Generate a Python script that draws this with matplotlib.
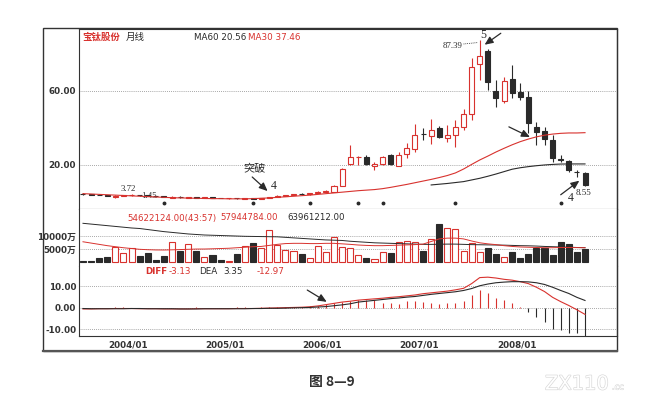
import matplotlib
matplotlib.use('Agg')
import matplotlib.pyplot as plt
import matplotlib.patheffects as pe
from matplotlib.patches import Rectangle
from matplotlib.lines import Line2D
import numpy as np
import pandas as pd

plt.rcParams['font.family'] = ['DejaVu Sans', 'Noto Sans CJK SC']

# ---------------- data (monthly, 2003/08 .. 2008/10) ----------------
months = pd.date_range('2003-08-01', periods=63, freq='MS').strftime('%Y/%m').tolist()

open_ = [4.4, 4.2, 4.0, 3.7, 2.6, 3.2, 3.6, 3.9, 3.5, 3.2,
         3.0, 2.4, 2.9, 2.3, 2.7, 2.2, 2.6, 2.3, 1.9, 2.2,
         1.6, 2.1, 1.8, 2.2, 2.6, 3.3, 3.8, 4.4, 4.1, 4.8,
         5.6, 5.6, 8.8, 20.5, 24.2, 24.5, 19.4, 20.5, 25.4, 19.5,
         25.9, 28.6, 36.9, 35.7, 40.0, 34.6, 36.2, 40.5, 47.6, 74.6,
         81.6, 60.0, 54.6, 66.5, 59.5, 56.8, 40.5, 38.4, 33.5, 23.2,
         22.2, 16.4, 15.7]
close_ = [4.2, 4.0, 3.7, 3.4, 3.3, 3.6, 3.9, 3.5, 3.2, 3.0,
          2.6, 2.9, 2.5, 2.7, 2.4, 2.6, 2.3, 2.1, 2.2, 1.9,
          2.1, 1.8, 2.2, 2.6, 3.3, 3.8, 4.2, 4.1, 4.8, 5.6,
          6.0, 8.8, 18.0, 24.5, 24.4, 20.5, 20.3, 24.3, 20.5, 25.4,
          29.2, 36.2, 36.6, 38.9, 35.1, 36.2, 40.5, 47.6, 73.0, 78.9,
          64.9, 56.2, 65.4, 58.9, 56.8, 42.7, 37.8, 34.1, 23.8, 22.7,
          17.3, 16.0, 9.2]
high_ = [4.6, 4.4, 4.2, 3.9, 3.5, 3.72, 4.1, 4.0, 3.7, 3.4,
         3.1, 3.0, 3.0, 2.9, 2.8, 2.8, 2.7, 2.4, 2.4, 2.3,
         2.2, 2.2, 2.4, 2.8, 3.5, 4.0, 4.5, 4.6, 5.0, 5.9,
         6.4, 9.2, 18.5, 30.8, 24.8, 25.5, 21.8, 25.0, 26.0, 27.0,
         31.9, 42.2, 40.0, 44.9, 41.0, 41.6, 44.3, 50.3, 78.0, 87.39,
         82.5, 66.0, 67.6, 74.0, 64.3, 60.0, 43.2, 40.5, 36.2, 25.4,
         22.7, 17.3, 16.0]
low_ = [4.0, 3.8, 3.6, 3.3, 2.4, 3.0, 3.4, 3.4, 3.1, 2.9,
        2.5, 2.2, 2.4, 2.1, 2.3, 2.0, 2.2, 2.0, 1.7, 1.8,
        1.5, 1.7, 1.7, 2.1, 2.5, 3.2, 3.6, 3.9, 4.0, 4.6,
        5.3, 5.3, 8.5, 19.8, 20.0, 20.0, 17.3, 20.0, 20.0, 19.2,
        23.8, 27.0, 33.5, 31.4, 34.5, 32.4, 29.7, 38.9, 44.3, 66.0,
        60.5, 51.4, 53.5, 56.2, 55.1, 37.3, 30.8, 30.8, 21.6, 21.6,
        16.2, 13.5, 8.55]

ma30 = [4.5, 4.3, 4.1, 3.9, 3.7, 3.5, 3.3, 3.1, 2.9, 2.7,
        2.5, 2.3, 2.2, 2.1, 2.0, 1.9, 1.8, 1.8, 1.7, 1.7,
        1.7, 1.8, 2.0, 2.2, 2.5, 2.8, 3.1, 3.4, 3.7, 4.1,
        4.5, 4.9, 5.3, 5.7, 6.1, 6.4, 6.7, 7.2, 7.9, 8.7,
        9.5, 10.4, 11.3, 12.2, 13.2, 14.3, 15.7, 17.8, 20.3, 22.7,
        24.8, 27.0, 29.0, 30.9, 32.6, 34.0, 35.2, 36.1, 36.7, 37.1,
        37.3, 37.3, 37.46]
nan = float('nan')
ma60 = [nan] * 43 + [9.2, 9.6, 10.0, 10.5, 11.0, 11.9, 12.8,
                     13.9, 15.1, 16.4, 17.7, 18.5, 19.1, 19.6, 20.0, 20.3, 20.5,
                     20.55, 20.56, 20.56]
mark_idx = [10, 21, 28, 34, 37, 46, 59]

volume = [513, 513, 1795, 2180, 6025, 3460, 5385, 2435, 3460, 900,
          2565, 7950, 4360, 6920, 4360, 2180, 2820, 900, 513, 3330,
          6410, 7310, 5385, 12435, 6670, 4740, 4360, 3075, 1540, 6410,
          4100, 9870, 6025, 5385, 2820, 1795, 1280, 4100, 3460, 7950,
          8200, 7950, 4490, 8975, 14615, 13075, 12690, 4490, 7565, 4100,
          5640, 3205, 1925, 4100, 1540, 3205, 5385, 5385, 2820, 7950,
          7050, 4100, 5130]
vol_ma_a = [15000, 14700, 14400, 14100, 13800, 13500, 13200, 13000, 12600, 12200,
            11800, 11500, 11200, 10900, 10700, 10500, 10400, 10300, 10200, 10100,
            10000, 9950, 9900, 9850, 9800, 9600, 9400, 9200, 9000, 8800,
            8600, 8500, 8400, 8100, 7900, 7700, 7500, 7400, 7300, 7200,
            7100, 7000, 6900, 6900, 6950, 7000, 7000, 6900, 6800, 6750,
            6700, 6650, 6600, 6500, 6400, 6350, 6250, 6100, 6000, 5900,
            5800, 5700, 5620]
vol_ma_b = [7900, 7400, 6900, 6400, 6000, 5600, 5300, 5000, 4850, 4750,
            4730, 4800, 4900, 5000, 5100, 5110, 5200, 5300, 5400, 5600,
            5800, 6000, 6100, 6500, 6900, 7200, 7300, 7300, 7200, 7200,
            7300, 7300, 7100, 6900, 6650, 6500, 6400, 6400, 6500, 6600,
            6700, 6800, 7000, 8000, 9000, 9300, 9300, 9000, 8200, 7500,
            7100, 6800, 6400, 6100, 5900, 5800, 5700, 5600, 5600, 5700,
            5700, 5650, 5600]

diff = [-0.6, -0.6, -0.5, -0.5, -0.4, -0.4, -0.4, -0.5, -0.5, -0.5,
        -0.6, -0.6, -0.6, -0.6, -0.5, -0.5, -0.5, -0.5, -0.5, -0.4,
        -0.4, -0.4, -0.3, -0.2, -0.1, 0.0, 0.1, 0.2, 0.4, 0.8,
        1.4, 2.0, 2.6, 3.0, 3.5, 3.8, 4.1, 4.4, 4.8, 5.1,
        5.5, 5.9, 6.5, 6.9, 7.3, 7.7, 8.3, 9.0, 11.2, 14.0,
        14.2, 13.8, 13.2, 12.8, 12.1, 11.2, 9.5, 7.5, 4.8, 2.8,
        1.0, -1.0, -3.13]
dea = [-0.4, -0.5, -0.5, -0.5, -0.5, -0.5, -0.4, -0.4, -0.5, -0.5,
       -0.5, -0.5, -0.6, -0.6, -0.6, -0.5, -0.5, -0.5, -0.5, -0.5,
       -0.5, -0.4, -0.4, -0.3, -0.3, -0.2, -0.1, 0.0, 0.1, 0.3,
       0.5, 0.9, 1.3, 1.8, 2.6, 3.0, 3.4, 3.8, 4.2, 4.5,
       4.9, 5.2, 5.7, 6.2, 6.6, 7.0, 7.4, 8.0, 8.9, 10.2,
       11.0, 11.6, 11.9, 12.1, 12.1, 12.0, 11.6, 10.8, 9.5, 8.0,
       6.6, 4.8, 3.35]
macd = [-0.2, -0.2, 0.0, 0.0, 0.2, 0.2, 0.0, -0.2, 0.0, 0.0,
        -0.2, -0.2, 0.0, 0.0, 0.2, 0.0, 0.0, 0.0, 0.0, 0.2,
        0.2, 0.0, 0.2, 0.2, 0.4, 0.4, 0.4, 0.4, 0.6, 1.0,
        1.8, 2.2, 2.6, 3.2, 3.6, 3.6, 3.6, 2.0, 2.0, 1.8,
        3.2, 3.0, 2.8, 2.0, 1.8, 2.0, 2.4, 3.0, 5.9, 8.2,
        7.0, 4.5, 3.6, 2.2, 0.3, -1.9, -4.2, -6.5, -9.9, -10.3,
        -11.6, -11.6, -12.97]

price_ticks = [20, 60]
price_labels = ['20.00', '60.00']
vol_ticks = [5000, 10000]
vol_labels = ['5000万', '10000万']
macd_ticks = [-10, 0, 10]
macd_labels = ['-10.00', '0.00', '10.00']

# ---------------- styling ----------------
RED = '#d8322e'
BLK = '#2a2a2a'
GRID = '#8a8a8a'
W, H = 654, 408

fig = plt.figure(figsize=(W / 100, H / 100), dpi=100)

def rect(top, bottom):
    return [79 / W, 1 - bottom / H, (617 - 79) / W, (bottom - top) / H]

ax1 = fig.add_axes(rect(29, 209))
ax2 = fig.add_axes(rect(209, 266))
ax3 = fig.add_axes(rect(266, 336))

x = np.arange(len(months))
o = np.array(open_); c = np.array(close_)
h = np.array(high_); l = np.array(low_)
up = c >= o
edge = np.where(up, RED, BLK)
face = np.where(up, 'white', BLK)

XL = (-0.49, 65.95)
for ax in (ax1, ax2, ax3):
    ax.set_xlim(*XL)
    ax.set_facecolor('white')
    for s in ax.spines.values():
        s.set_color('#333333')
        s.set_linewidth(0.8)
    ax.tick_params(axis='y', length=0, pad=2, labelsize=6.3, labelcolor='#333333')
    for lab in ax.get_yticklabels():
        lab.set_fontweight('bold')

# price panel
ax1.vlines(x, l, h, colors=edge, lw=0.8, zorder=2)
ax1.bar(x, np.abs(c - o), bottom=np.minimum(o, c), width=0.62, color=face,
        edgecolor=edge, linewidth=0.8, zorder=3)
ax1.plot(x, ma30, color=RED, lw=0.8, zorder=4)
ax1.plot(x, ma60, color=BLK, lw=0.8, zorder=4)
ax1.plot(mark_idx, [-0.7] * len(mark_idx), 'o', ms=1.8, color=BLK, zorder=4)
ax1.set_ylim(-3.8, 93.5)
ax1.set_yticks(price_ticks)
ax1.set_yticklabels(price_labels, fontweight='bold')
ax1.set_xticks([])
ax1.yaxis.grid(True, ls=(0, (1, 1.5)), color=GRID, lw=0.6)
ax1.set_axisbelow(True)

# annotations in price panel
arw = dict(arrowstyle='-|>,head_length=0.5,head_width=0.22', color=BLK, lw=0.9,
           shrinkA=0, shrinkB=0)
ax1.annotate('', xy=(22.8, 5.9), xytext=(20.9, 13.5), arrowprops=arw)
ax1.text(21.2, 18.4, '突破', fontsize=8, family=['Noto Sans CJK SC'], color=BLK,
         ha='center', va='center')
ax1.text(23.6, 8.8, '4', fontsize=8.5, family=['Liberation Serif'], color=BLK,
         ha='center', va='center')
ax1.annotate('', xy=(49.6, 85.0), xytext=(51.6, 91.2), arrowprops=arw)
ax1.text(49.4, 90.0, '5', fontsize=8.5, family=['Liberation Serif'], color=BLK,
         ha='center', va='center')
ax1.text(46.9, 84.3, '87.39', fontsize=6.3, family=['Liberation Serif'], color=BLK,
         ha='right', va='center')
ax1.plot([47.0, 48.8], [85.4, 86.2], ls=(0, (1, 1.2)), color=BLK, lw=0.6)
ax1.annotate('', xy=(55.2, 35.1), xytext=(52.6, 40.6), arrowprops=arw)
ax1.annotate('', xy=(61.3, 11.5), xytext=(59.0, 3.9), arrowprops=arw)
ax1.text(60.2, 2.4, '4', fontsize=8.5, family=['Liberation Serif'], color=BLK,
         ha='center', va='center')
ax1.text(60.8, 5.0, '8.55', fontsize=6.5, family=['Liberation Serif'], color=BLK,
         ha='left', va='center')
ax1.text(5.6, 7.2, '3.72', fontsize=6.3, family=['Liberation Serif'], color=BLK,
         ha='center', va='center')
ax1.text(8.1, 3.3, '1.45', fontsize=6.3, family=['Liberation Serif'], color=BLK,
         ha='center', va='center')

# volume panel
ax2.bar(x, volume, width=0.75, color=face, edgecolor=edge, linewidth=0.8, zorder=3)
ax2.plot(x, vol_ma_a, color=BLK, lw=0.7, zorder=4)
ax2.plot(x, vol_ma_b, color=RED, lw=0.7, zorder=4)
ax2.set_ylim(-1420, 20500)
ax2.set_yticks(vol_ticks)
ax2.set_yticklabels(vol_labels, fontweight='bold')
ax2.set_xticks([])
ax2.yaxis.grid(True, ls=(0, (1, 1.5)), color=GRID, lw=0.6)
ax2.set_axisbelow(True)
ax2.spines['top'].set_visible(False)
ax2.spines['bottom'].set_visible(False)

# macd panel
m = np.array(macd)
ax3.vlines(x, 0, m, colors=np.where(m >= 0, RED, BLK), lw=0.8, zorder=3)
ax3.plot(x, diff, color=RED, lw=0.8, zorder=4)
ax3.plot(x, dea, color=BLK, lw=0.8, zorder=4)
ax3.set_ylim(-13.2, 19.4)
ax3.set_yticks(macd_ticks)
ax3.set_yticklabels(macd_labels, fontweight='bold')
ax3.yaxis.grid(True, ls=(0, (1, 1.5)), color=GRID, lw=0.6)
ax3.set_axisbelow(True)
ax3.spines['top'].set_visible(False)
jan_idx = [i for i, mo in enumerate(months) if mo.endswith('/01')]
ax3.set_xticks([i + 0.55 for i in jan_idx])
ax3.set_xticklabels([months[i] for i in jan_idx], fontsize=6.3, fontweight='bold',
                    color='#333333')
ax3.tick_params(axis='x', length=0, pad=3)
ax3.annotate('', xy=(30.1, 2.7), xytext=(27.7, 8.2), arrowprops=arw)

# ---------------- texts ----------------
def fx(px):
    return px / W

def fy(py):
    return 1 - py / H

fig.text(fx(82), fy(37), '宝钛股份', fontsize=6.8, color=RED, weight='bold',
         family=['Noto Sans CJK SC'], va='center')
fig.text(fx(126), fy(37), '月线', fontsize=6.8, color=BLK,
         family=['Noto Sans CJK SC'], va='center')
fig.text(fx(194), fy(37), 'MA60 20.56', fontsize=6.3, color=BLK, va='center')
fig.text(fx(248), fy(37), 'MA30 37.46', fontsize=6.3, color=RED, va='center')

fig.text(fx(127), fy(218), '54622124.00(43:57)', fontsize=6.2, color=RED, va='center')
fig.text(fx(220), fy(218), '57944784.00', fontsize=6.2, color=RED, va='center')
fig.text(fx(287), fy(218), '63961212.00', fontsize=6.2, color=BLK, va='center')

fig.text(fx(145), fy(271), 'DIFF', fontsize=6.3, color=RED, va='center', weight='bold')
fig.text(fx(169), fy(271), '-3.13', fontsize=6.3, color=RED, va='center')
fig.text(fx(199), fy(271), 'DEA', fontsize=6.3, color=BLK, va='center')
fig.text(fx(223), fy(271), '3.35', fontsize=6.3, color=BLK, va='center')
fig.text(fx(257), fy(271), '-12.97', fontsize=6.3, color=RED, va='center')

# outer frame
fig.patches.append(Rectangle((fx(43), fy(351)), (617 - 43) / W, (351 - 28) / H,
                             transform=fig.transFigure, fill=False,
                             edgecolor='#333333', lw=1.0))
fig.lines.append(Line2D([fx(43), fx(617)], [fy(351), fy(351)], transform=fig.transFigure,
                        color='#555555', lw=1.6))

# caption and watermark
fig.text(fx(332), fy(382), '图 8—9', fontsize=10, color='#333333', weight='bold',
         family=['Noto Sans CJK SC'], ha='center', va='center')
fig.text(fx(545), fy(384), 'ZX110', fontsize=14, color='white', ha='left', va='center',
         path_effects=[pe.withStroke(linewidth=0.9, foreground='#d6d6d6')])
fig.text(fx(612), fy(387), '.cc', fontsize=6, color='white', ha='left', va='center',
         path_effects=[pe.withStroke(linewidth=0.7, foreground='#d6d6d6')])

fig.savefig('out.png', dpi=100, facecolor='white')
